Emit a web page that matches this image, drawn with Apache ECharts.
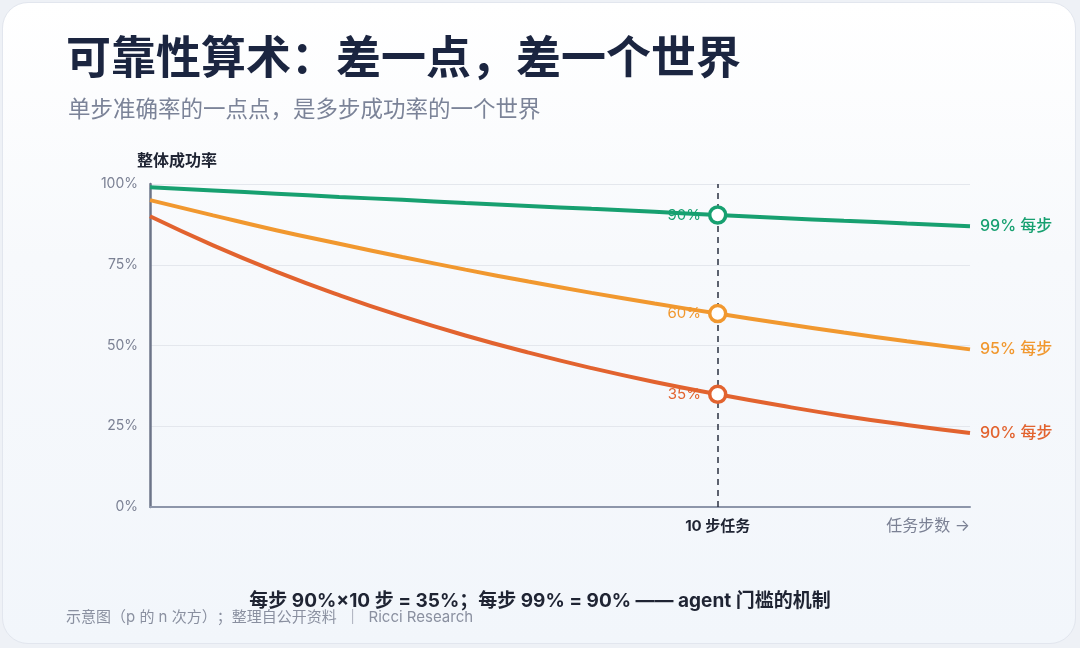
<!DOCTYPE html>
<html><head><meta charset="utf-8">
<script src="https://cdn.jsdelivr.net/npm/echarts@6/dist/echarts.min.js"></script>
<style>
html,body{margin:0;padding:0;width:1080px;height:648px;background:#eef1f6;overflow:hidden;font-family:"Noto Sans CJK SC","Noto Sans",sans-serif}
#card{position:absolute;left:2px;top:2px;width:1074px;height:642px;border-radius:26px;background:linear-gradient(180deg,#ffffff 0%,#f7f9fc 40%,#f2f6fb 100%);border:1px solid #e2e6ee;box-sizing:border-box}
#chart{position:absolute;left:0;top:0;width:1080px;height:648px}
</style></head>
<body><div id="card"></div><div id="chart"></div>
<script>
var steps = [1,2,3,4,5,6,7,8,9,10,11,12,13,14];
var p99 = [99,98,97,96,95.1,94.1,93.2,92.3,91.4,90.4,89.5,88.6,87.8,86.9];
var p95 = [95,90.3,85.7,81.5,77.4,73.5,69.8,66.3,63.0,59.9,56.9,54.0,51.3,48.8];
var p90 = [90,81,72.9,65.6,59.0,53.1,47.8,43.0,38.7,34.9,31.4,28.2,25.4,22.9];
var seriesNames = ['99% 每步','95% 每步','90% 每步'];
var colors = ['#17a070','#f1982f','#e2632f'];
var markStep = 10;
var markLabels = ['90%','60%','35%'];
var yTicks = [0,25,50,75,100];

var FONT = 'Inter, "Noto Sans CJK SC", sans-serif';
var chart = echarts.init(document.getElementById('chart'));
var all = [p99,p95,p90];
var series = [];
all.forEach(function(arr,i){
  series.push({
    name: seriesNames[i], type:'line', smooth:true, symbol:'none',
    data: steps.map(function(s,k){return [s,arr[k]];}),
    lineStyle:{color:colors[i],width:4},
    itemStyle:{color:colors[i]},
    endLabel:{show:true,formatter:'{a}',color:colors[i],fontSize:16,fontWeight:500,distance:10,fontFamily:FONT},
    z:3,
    markLine: i===0 ? {symbol:['none','none'],silent:true,label:{show:false},
      lineStyle:{color:'#2a3040',type:[6,5],width:1.5},data:[{xAxis:markStep}]} : undefined
  });
  series.push({
    type:'scatter', symbol:'circle', symbolSize:16, z:5,
    data:[[markStep, arr[steps.indexOf(markStep)]]],
    itemStyle:{color:'#ffffff',borderColor:colors[i],borderWidth:3.5,opacity:1},
    label:{show:true,position:'left',distance:7,formatter:markLabels[i],color:colors[i],fontSize:15,fontFamily:FONT}
  });
});

chart.setOption({
  animation:false,
  title:[{text:'可靠性算术：差一点，差一个世界',left:61,top:29,textStyle:{fontSize:45,fontWeight:'bold',color:'#1b2540',fontFamily:'Noto Sans CJK SC'}},
         {text:'单步准确率的一点点，是多步成功率的一个世界',left:63,top:92,textStyle:{fontSize:22.5,fontWeight:'normal',color:'#7b8398',fontFamily:'Noto Sans CJK SC'}}],
  grid:{left:150,right:110,top:184,bottom:141},
  xAxis:{type:'value',min:1,max:14,interval:1,
    axisLine:{show:true,lineStyle:{color:'#8d96aa',width:2}},
    axisTick:{show:false},splitLine:{show:false},
    axisLabel:{margin:12,fontSize:15,fontWeight:'bold',color:'#1f2433',fontFamily:FONT,
      formatter:function(v){return v===markStep?'10 步任务':'';}}},
  yAxis:{type:'value',min:0,max:100,interval:25,
    name:'整体成功率',nameLocation:'end',nameGap:16,
    nameTextStyle:{align:'left',padding:[0,0,0,-13],fontSize:16,fontWeight:'bold',color:'#1f2433',fontFamily:'Noto Sans CJK SC'},
    axisLine:{show:true,lineStyle:{color:'#6c7488',width:2.5}},
    axisTick:{show:false},
    splitLine:{lineStyle:{color:'#e4e7ed',width:1}},
    axisLabel:{formatter:'{value}%',fontSize:14,color:'#7b8194',margin:12,fontFamily:FONT}},
  graphic:[
    {type:'text',right:110,top:518,style:{text:'任务步数 →',fill:'#7b8194',font:'16px Inter, "Noto Sans CJK SC"'}},
    {type:'text',left:'center',top:592,style:{text:'每步 90%×10 步 = 35%；每步 99% = 90% —— agent 门槛的机制',fill:'#1f2433',font:'bold 19px Inter, "Noto Sans CJK SC"'}},
    {type:'text',left:66,top:610,style:{text:'示意图（p 的 n 次方）；整理自公开资料  ｜  Ricci Research',fill:'#8a90a0',font:'15px Inter, "Noto Sans CJK SC"'}}
  ],
  series:series
});
</script></body></html>
